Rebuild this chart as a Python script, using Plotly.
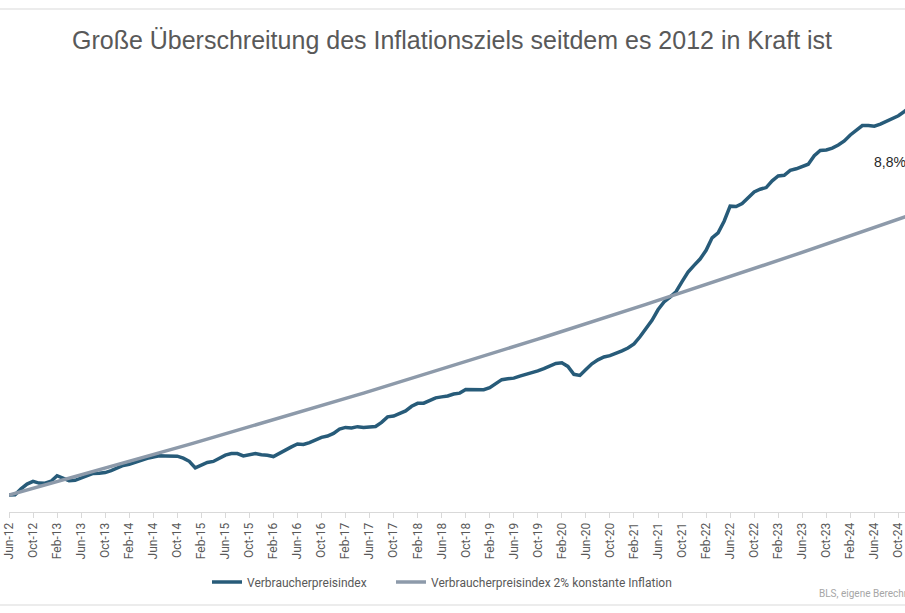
import pandas as pd
import plotly.graph_objects as go

# Monthly categories Jun-12 .. Dec-24
months = list(pd.date_range("2012-06-01", "2024-12-01", freq="MS").strftime("%b-%y"))

# Verbraucherpreisindex (CPI, saisonbereinigt), Jun-12 .. Dec-24
cpi = [
    228.52, 228.59, 229.92, 231.02, 231.64, 231.25, 231.22,
    231.68, 232.94, 232.28, 231.80, 231.89, 232.45, 232.90, 233.46, 233.54, 233.67, 234.10, 234.72,
    235.29, 235.55, 236.03, 236.47, 236.92, 237.23, 237.50, 237.46, 237.48, 237.43, 236.98, 236.25,
    234.75, 235.34, 235.98, 236.22, 237.00, 237.66, 238.03, 238.03, 237.50, 237.73, 238.02, 237.76,
    237.65, 237.34, 238.08, 238.99, 239.56, 240.22, 240.10, 240.55, 241.18, 241.74, 242.03, 242.64,
    243.62, 244.01, 243.89, 244.19, 244.00, 244.16, 244.24, 245.18, 246.44, 246.63, 247.28, 247.81,
    248.86, 249.53, 249.58, 250.23, 250.79, 251.02, 251.21, 251.66, 251.88, 252.70, 252.71, 252.72,
    252.67, 253.11, 254.15, 254.96, 255.16, 255.31, 255.79, 256.16, 256.40, 256.97, 257.50, 258.20,
    258.69, 258.82, 257.99, 256.19, 255.94, 257.28, 258.60, 259.51, 260.15, 260.46, 260.93, 261.56,
    262.23, 263.16, 264.79, 266.83, 268.55, 270.98, 272.79, 273.89, 275.12, 277.44, 279.62, 281.16,
    282.60, 284.61, 287.47, 288.61, 291.27, 294.73, 294.63, 295.32, 296.54, 297.99, 298.60, 298.99,
    300.54, 301.65, 301.81, 302.92, 303.29, 303.84, 304.35, 306.27, 307.48, 307.62, 308.02, 308.74,
    309.69, 311.05, 312.23, 313.21, 313.23, 313.05, 313.53, 314.12, 314.69, 315.45, 316.44, 317.60,
]

# Verbraucherpreisindex bei 2% konstanter Inflation, Jun-12 .. Dec-24
cpi_2pct = [
    228.52, 228.90, 229.28, 229.66, 230.04, 230.42, 230.80, 231.18, 231.56, 231.94, 232.33, 232.71,
    233.09, 233.48, 233.86, 234.25, 234.64, 235.03, 235.41, 235.80, 236.19, 236.58, 236.97, 237.36,
    237.76, 238.15, 238.54, 238.94, 239.33, 239.73, 240.12, 240.52, 240.92, 241.31, 241.71, 242.11,
    242.51, 242.91, 243.31, 243.71, 244.12, 244.52, 244.92, 245.33, 245.73, 246.14, 246.55, 246.95,
    247.36, 247.77, 248.18, 248.59, 249.00, 249.41, 249.82, 250.24, 250.65, 251.06, 251.48, 251.89,
    252.31, 252.73, 253.14, 253.56, 253.98, 254.40, 254.82, 255.24, 255.66, 256.08, 256.51, 256.93,
    257.36, 257.78, 258.21, 258.63, 259.06, 259.49, 259.92, 260.35, 260.78, 261.21, 261.64, 262.07,
    262.50, 262.94, 263.37, 263.80, 264.24, 264.68, 265.11, 265.55, 265.99, 266.43, 266.87, 267.31,
    267.75, 268.19, 268.64, 269.08, 269.53, 269.97, 270.42, 270.86, 271.31, 271.76, 272.21, 272.66,
    273.11, 273.56, 274.01, 274.46, 274.92, 275.37, 275.82, 276.28, 276.74, 277.19, 277.65, 278.11,
    278.57, 279.03, 279.49, 279.95, 280.41, 280.88, 281.34, 281.81, 282.27, 282.74, 283.20, 283.67,
    284.14, 284.61, 285.08, 285.55, 286.02, 286.50, 286.97, 287.44, 287.92, 288.39, 288.87, 289.35,
    289.82, 290.30, 290.78, 291.26, 291.74, 292.23, 292.71,
]

tick_labels = [
    "Jun-12", "Oct-12", "Feb-13", "Jun-13", "Oct-13", "Feb-14", "Jun-14", "Oct-14",
    "Feb-15", "Jun-15", "Oct-15", "Feb-16", "Jun-16", "Oct-16", "Feb-17", "Jun-17",
    "Oct-17", "Feb-18", "Jun-18", "Oct-18", "Feb-19", "Jun-19", "Oct-19", "Feb-20",
    "Jun-20", "Oct-20", "Feb-21", "Jun-21", "Oct-21", "Feb-22", "Jun-22", "Oct-22",
    "Feb-23", "Jun-23", "Oct-23", "Feb-24", "Jun-24", "Oct-24",
]

series_names = ["Verbraucherpreisindex", "Verbraucherpreisindex 2% konstante Inflation"]
title_text = "Große Überschreitung des Inflationsziels seitdem es 2012 in Kraft ist"
gap_label = "8,8%"
source_text = "BLS, eigene Berechnungen"

NARROW = "Liberation Sans Narrow, Arial Narrow, Roboto, sans-serif"
BLUE = "#275B79"
GREY = "#8D9AAA"

fig = go.Figure()
fig.add_trace(go.Scatter(x=months, y=cpi, mode="lines", name=series_names[0],
                         legendwidth=139, line=dict(color=BLUE, width=3.5)))
fig.add_trace(go.Scatter(x=months, y=cpi_2pct, mode="lines", name=series_names[1],
                         line=dict(color=GREY, width=3.5)))

W, H = 905, 613
L, R, T, B = 9, 0, 75, 613 - 512
plot_w = W - L - R
plot_h = H - T - B

def px_x(p):
    """window pixel -> paper x"""
    return (p - L) / plot_w

def px_y(p):
    """window pixel -> paper y"""
    return (H - B - p) / plot_h

def cy(p):
    """window pixel -> container y"""
    return 1 - p / H

fig.update_layout(
    width=W, height=H,
    margin=dict(l=L, r=R, t=T, b=B, autoexpand=False),
    paper_bgcolor="white", plot_bgcolor="white",
    title=dict(text=title_text, x=452 / W, xanchor="center", y=cy(40), yanchor="middle",
               font=dict(family="Liberation Sans, Arial, sans-serif", size=25, color="#595959")),
    showlegend=True,
    legend=dict(orientation="h", xref="container", yref="container",
                x=207 / W, xanchor="left", y=cy(582), yanchor="middle",
                font=dict(family=NARROW, size=12, color="#595959"),
                bgcolor="rgba(0,0,0,0)", tracegroupgap=0),
    xaxis=dict(
        type="category", range=[0, 149.1], automargin=False,
        tickmode="array", tickvals=tick_labels, ticktext=tick_labels,
        tickangle=-90, ticks="outside", ticklen=5, tickcolor="#D9D9D9",
        showline=True, linecolor="#D9D9D9", linewidth=1,
        showgrid=False, zeroline=False,
        tickfont=dict(family=NARROW, size=12, color="#595959"),
    ),
    yaxis=dict(range=[224.63, 324.79], visible=False, showgrid=False, zeroline=False,
               automargin=False),
    annotations=[
        dict(text=gap_label, xref="paper", yref="paper", x=px_x(872), y=px_y(162),
             xanchor="left", yanchor="middle", showarrow=False,
             font=dict(family="Liberation Sans, Arial, sans-serif", size=14, color="#262626")),
        dict(text=source_text, xref="paper", yref="paper", x=px_x(817), y=px_y(593),
             xanchor="left", yanchor="middle", showarrow=False,
             font=dict(family=NARROW, size=10, color="#A6A6A6")),
    ],
    shapes=[
        dict(type="line", xref="paper", yref="paper", x0=px_x(0) - 0.02, x1=1.02,
             y0=px_y(9), y1=px_y(9), line=dict(color="#D9D9D9", width=1)),
        dict(type="line", xref="paper", yref="paper", x0=px_x(0) - 0.02, x1=1.02,
             y0=px_y(605), y1=px_y(605), line=dict(color="#D9D9D9", width=1)),
    ],
)

# remove the default page margin so the figure fills the window from its corner
fig.write_html("out.html", config={"displayModeBar": False},
               post_script="document.body.style.margin='0px';")
